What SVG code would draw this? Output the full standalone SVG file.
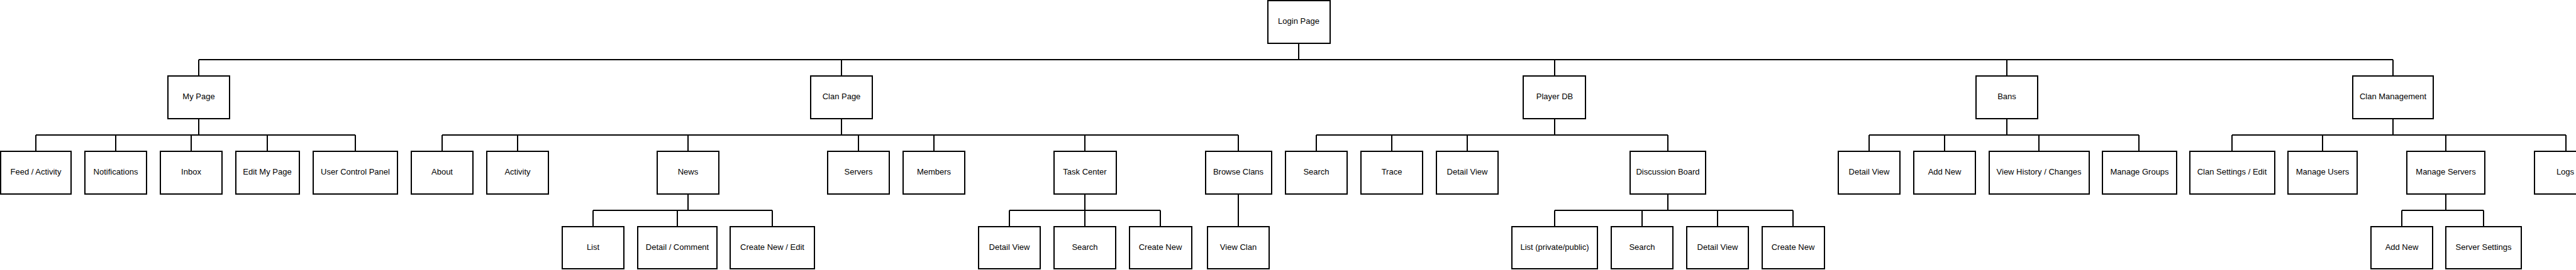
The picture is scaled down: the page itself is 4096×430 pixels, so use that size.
<svg xmlns="http://www.w3.org/2000/svg" width="4096" height="430" viewBox="0 0 4096 430">
<style>
.box{fill:#fff;stroke:#000;stroke-width:2}
.lbl{font-family:"Liberation Sans",Arial,sans-serif;font-size:13px;fill:#000;text-anchor:middle}
.con{fill:none;stroke:#000;stroke-width:2}
</style>
<rect width="4096" height="430" fill="#fff"/>
<g id="connectors" class="con">
<path d="M2065 69V95M316 95H3805M316 95V121M1338 95V121M2472 95V121M3191 95V121M3805 95V121"/>
<path d="M316 189V215M57 215H565M57 215V241M184 215V241M304 215V241M425 215V241M565 215V241"/>
<path d="M1338 189V215M703 215H1969M703 215V241M823 215V241M1094 215V241M1365 215V241M1485 215V241M1725 215V241M1969 215V241"/>
<path d="M2472 189V215M2093 215H2652M2093 215V241M2213 215V241M2333 215V241M2652 215V241"/>
<path d="M3191 189V215M2972 215H3401M2972 215V241M3092 215V241M3242 215V241M3401 215V241"/>
<path d="M3805 189V215M3549 215H4080M3549 215V241M3693 215V241M3889 215V241M4080 215V241"/>
<path d="M1094 309V335M943 335H1228M943 335V361M1077 335V361M1228 335V361"/>
<path d="M1725 309V335M1605 335H1845M1605 335V361M1725 335V361M1845 335V361"/>
<path d="M1969 309V361"/>
<path d="M2652 309V335M2472 335H2851M2472 335V361M2611 335V361M2731 335V361M2851 335V361"/>
<path d="M3889 309V335M3819 335H3949M3819 335V361M3949 335V361"/>
</g>
<g id="login-page"><rect class="box" x="2016" y="1" width="99" height="68"/><text class="lbl" x="2065" y="37.5">Login Page</text></g>
<g id="my-page"><rect class="box" x="267" y="121" width="98" height="68"/><text class="lbl" x="316" y="157.5">My Page</text></g>
<g id="clan-page"><rect class="box" x="1289" y="121" width="98" height="68"/><text class="lbl" x="1338" y="157.5">Clan Page</text></g>
<g id="player-db"><rect class="box" x="2422" y="121" width="99" height="68"/><text class="lbl" x="2472" y="157.5">Player DB</text></g>
<g id="bans"><rect class="box" x="3142" y="121" width="98" height="68"/><text class="lbl" x="3191" y="157.5">Bans</text></g>
<g id="clan-management"><rect class="box" x="3741" y="121" width="128" height="68"/><text class="lbl" x="3805" y="157.5">Clan Management</text></g>
<g id="feed-activity"><rect class="box" x="1" y="241" width="112" height="68"/><text class="lbl" x="57" y="277.5">Feed / Activity</text></g>
<g id="notifications"><rect class="box" x="135" y="241" width="98" height="68"/><text class="lbl" x="184" y="277.5">Notifications</text></g>
<g id="inbox"><rect class="box" x="255" y="241" width="98" height="68"/><text class="lbl" x="304" y="277.5">Inbox</text></g>
<g id="edit-my-page"><rect class="box" x="375" y="241" width="101" height="68"/><text class="lbl" x="425" y="277.5">Edit My Page</text></g>
<g id="user-control-panel"><rect class="box" x="498" y="241" width="134" height="68"/><text class="lbl" x="565" y="277.5">User Control Panel</text></g>
<g id="about"><rect class="box" x="654" y="241" width="98" height="68"/><text class="lbl" x="703" y="277.5">About</text></g>
<g id="activity"><rect class="box" x="774" y="241" width="98" height="68"/><text class="lbl" x="823" y="277.5">Activity</text></g>
<g id="news"><rect class="box" x="1045" y="241" width="98" height="68"/><text class="lbl" x="1094" y="277.5">News</text></g>
<g id="servers"><rect class="box" x="1316" y="241" width="98" height="68"/><text class="lbl" x="1365" y="277.5">Servers</text></g>
<g id="members"><rect class="box" x="1436" y="241" width="98" height="68"/><text class="lbl" x="1485" y="277.5">Members</text></g>
<g id="task-center"><rect class="box" x="1676" y="241" width="99" height="68"/><text class="lbl" x="1725" y="277.5">Task Center</text></g>
<g id="browse-clans"><rect class="box" x="1917" y="241" width="105" height="68"/><text class="lbl" x="1969" y="277.5">Browse Clans</text></g>
<g id="pdb-search"><rect class="box" x="2044" y="241" width="98" height="68"/><text class="lbl" x="2093" y="277.5">Search</text></g>
<g id="pdb-trace"><rect class="box" x="2164" y="241" width="98" height="68"/><text class="lbl" x="2213" y="277.5">Trace</text></g>
<g id="pdb-detail-view"><rect class="box" x="2284" y="241" width="98" height="68"/><text class="lbl" x="2333" y="277.5">Detail View</text></g>
<g id="discussion-board"><rect class="box" x="2592" y="241" width="120" height="68"/><text class="lbl" x="2652" y="277.5">Discussion Board</text></g>
<g id="bans-detail-view"><rect class="box" x="2923" y="241" width="98" height="68"/><text class="lbl" x="2972" y="277.5">Detail View</text></g>
<g id="bans-add-new"><rect class="box" x="3043" y="241" width="98" height="68"/><text class="lbl" x="3092" y="277.5">Add New</text></g>
<g id="view-history"><rect class="box" x="3163" y="241" width="159" height="68"/><text class="lbl" x="3242" y="277.5">View History / Changes</text></g>
<g id="manage-groups"><rect class="box" x="3343" y="241" width="118" height="68"/><text class="lbl" x="3402" y="277.5">Manage Groups</text></g>
<g id="clan-settings"><rect class="box" x="3482" y="241" width="135" height="68"/><text class="lbl" x="3549" y="277.5">Clan Settings / Edit</text></g>
<g id="manage-users"><rect class="box" x="3638" y="241" width="110" height="68"/><text class="lbl" x="3693" y="277.5">Manage Users</text></g>
<g id="manage-servers"><rect class="box" x="3827" y="241" width="124" height="68"/><text class="lbl" x="3889" y="277.5">Manage Servers</text></g>
<g id="logs"><rect class="box" x="4030" y="241" width="98" height="68"/><text class="lbl" x="4079" y="277.5">Logs</text></g>
<g id="news-list"><rect class="box" x="894" y="361" width="98" height="67"/><text class="lbl" x="943" y="397.5">List</text></g>
<g id="news-detail"><rect class="box" x="1014" y="361" width="126" height="67"/><text class="lbl" x="1077" y="397.5">Detail / Comment</text></g>
<g id="news-create"><rect class="box" x="1161" y="361" width="134" height="67"/><text class="lbl" x="1228" y="397.5">Create New / Edit</text></g>
<g id="task-detail-view"><rect class="box" x="1556" y="361" width="98" height="67"/><text class="lbl" x="1605" y="397.5">Detail View</text></g>
<g id="task-search"><rect class="box" x="1676" y="361" width="98" height="67"/><text class="lbl" x="1725" y="397.5">Search</text></g>
<g id="task-create-new"><rect class="box" x="1796" y="361" width="99" height="67"/><text class="lbl" x="1845" y="397.5">Create New</text></g>
<g id="view-clan"><rect class="box" x="1920" y="361" width="98" height="67"/><text class="lbl" x="1969" y="397.5">View Clan</text></g>
<g id="disc-list"><rect class="box" x="2404" y="361" width="136" height="67"/><text class="lbl" x="2472" y="397.5">List (private/public)</text></g>
<g id="disc-search"><rect class="box" x="2562" y="361" width="98" height="67"/><text class="lbl" x="2611" y="397.5">Search</text></g>
<g id="disc-detail-view"><rect class="box" x="2682" y="361" width="98" height="67"/><text class="lbl" x="2731" y="397.5">Detail View</text></g>
<g id="disc-create-new"><rect class="box" x="2802" y="361" width="99" height="67"/><text class="lbl" x="2851" y="397.5">Create New</text></g>
<g id="servers-add-new"><rect class="box" x="3770" y="361" width="98" height="67"/><text class="lbl" x="3819" y="397.5">Add New</text></g>
<g id="server-settings"><rect class="box" x="3889" y="361" width="120" height="67"/><text class="lbl" x="3949" y="397.5">Server Settings</text></g>
</svg>
